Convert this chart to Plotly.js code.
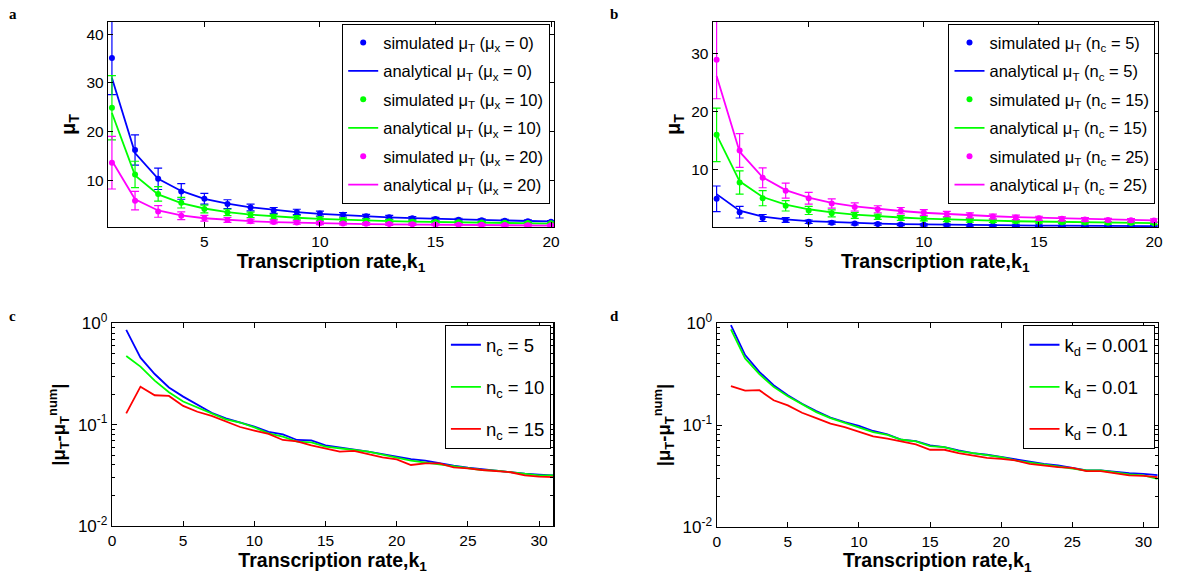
<!DOCTYPE html>
<html>
<head>
<meta charset="utf-8">
<script src="https://cdn.plot.ly/plotly-3.0.1.min.js"></script>
<style>
  html, body { margin: 0; padding: 0; background: #fff; }
  #chart { width: 1179px; height: 578px; }
</style>
</head>
<body>
<div id="chart"></div>
<script>
// Transcription rate k1 for the mean-protein panels (a, b) and the error panels (c, d)
const kTop = [1, 2, 3, 4, 5, 6, 7, 8, 9, 10, 11, 12, 13, 14, 15, 16, 17, 18, 19, 20];
const kBottom = [1, 2, 3, 4, 5, 6, 7, 8, 9, 10, 11, 12, 13, 14, 15, 16, 17, 18, 19, 20,
                 21, 22, 23, 24, 25, 26, 27, 28, 29, 30, 31];

// Panel a: mean mu_T for mu_x = 0, 10, 20
const aSim0 = [35.1, 16.2, 10.3, 7.7, 6.2, 5.1, 4.4, 3.8, 3.5, 3.15, 2.9, 2.6, 2.4, 2.2, 2.05, 1.9, 1.8, 1.7, 1.6, 1.5];
const aErr0 = [7.5, 3.1, 2.2, 1.6, 1.1, 0.9, 0.7, 0.6, 0.55, 0.5, 0.45, 0.4, 0.38, 0.35, 0.33, 0.3, 0.28, 0.27, 0.25, 0.24];
const aAna0 = [31.0, 15.6, 10.3, 7.8, 6.2, 5.2, 4.45, 3.9, 3.45, 3.1, 2.82, 2.58, 2.38, 2.21, 2.07, 1.94, 1.82, 1.72, 1.63, 1.55];
const aSim10 = [24.9, 11.2, 7.2, 5.4, 4.1, 3.4, 2.9, 2.5, 2.3, 2.05, 1.85, 1.7, 1.6, 1.5, 1.42, 1.35, 1.3, 1.25, 1.2, 1.15];
const aErr10 = [6.6, 2.7, 1.5, 1.1, 0.8, 0.65, 0.55, 0.5, 0.45, 0.4, 0.37, 0.34, 0.32, 0.3, 0.28, 0.27, 0.26, 0.25, 0.24, 0.23];
const aAna10 = [23.8, 11.0, 7.1, 5.3, 4.2, 3.45, 2.95, 2.58, 2.3, 2.07, 1.88, 1.73, 1.6, 1.5, 1.41, 1.33, 1.26, 1.2, 1.15, 1.1];
const aSim20 = [13.6, 5.8, 3.6, 2.7, 2.2, 1.85, 1.6, 1.45, 1.3, 1.2, 1.1, 1.05, 1.0, 0.95, 0.9, 0.87, 0.84, 0.8, 0.78, 0.75];
const aErr20 = [5.4, 1.9, 1.2, 0.8, 0.6, 0.5, 0.42, 0.38, 0.34, 0.3, 0.28, 0.26, 0.25, 0.23, 0.22, 0.21, 0.2, 0.2, 0.19, 0.18];
const aAna20 = [14.0, 6.1, 3.8, 2.8, 2.2, 1.85, 1.6, 1.42, 1.28, 1.17, 1.08, 1.0, 0.94, 0.89, 0.85, 0.81, 0.78, 0.75, 0.72, 0.7];

// Panel b: mean mu_T for n_c = 5, 15, 25
const bSim5 = [5.0, 2.7, 1.7, 1.35, 1.05, 0.9, 0.75, 0.65, 0.58, 0.52, 0.48, 0.44, 0.41, 0.38, 0.36, 0.34, 0.33, 0.31, 0.3, 0.29];
const bErr5 = [2.2, 1.0, 0.6, 0.4, 0.3, 0.25, 0.22, 0.2, 0.18, 0.16, 0.15, 0.14, 0.13, 0.12, 0.12, 0.11, 0.11, 0.1, 0.1, 0.1];
const bAna5 = [5.8, 2.95, 1.95, 1.47, 1.17, 0.98, 0.84, 0.73, 0.65, 0.59, 0.53, 0.49, 0.45, 0.42, 0.39, 0.37, 0.35, 0.33, 0.31, 0.3];
const bSim15 = [16.0, 7.8, 5.1, 3.8, 3.0, 2.5, 2.15, 1.9, 1.7, 1.55, 1.4, 1.3, 1.2, 1.12, 1.05, 0.98, 0.93, 0.88, 0.84, 0.8];
const bErr15 = [4.6, 2.0, 1.3, 0.9, 0.7, 0.6, 0.5, 0.45, 0.4, 0.36, 0.33, 0.3, 0.28, 0.27, 0.25, 0.24, 0.23, 0.22, 0.21, 0.2];
const bAna15 = [16.0, 8.0, 5.3, 4.0, 3.2, 2.65, 2.28, 2.0, 1.78, 1.6, 1.45, 1.33, 1.23, 1.14, 1.07, 1.0, 0.94, 0.89, 0.84, 0.8];
const bSim25 = [28.9, 13.3, 8.6, 6.4, 5.1, 4.2, 3.6, 3.2, 2.95, 2.65, 2.4, 2.15, 1.95, 1.8, 1.65, 1.55, 1.45, 1.35, 1.3, 1.25];
const bErr25 = [6.7, 2.9, 1.7, 1.3, 1.0, 0.8, 0.7, 0.6, 0.55, 0.5, 0.45, 0.42, 0.4, 0.38, 0.35, 0.33, 0.32, 0.3, 0.29, 0.28];
const bAna25 = [26.1, 13.1, 8.7, 6.5, 5.2, 4.3, 3.7, 3.25, 2.9, 2.6, 2.37, 2.17, 2.0, 1.86, 1.74, 1.63, 1.53, 1.45, 1.37, 1.3];

// Panel c: |mu_T - mu_T^num| for n_c = 5, 10, 15
const cErr5 = [0.86, 0.458, 0.316, 0.233, 0.189, 0.156, 0.131, 0.1155, 0.1054, 0.0955, 0.0847, 0.0803, 0.0706, 0.070, 0.0625,
               0.0598, 0.0571, 0.0542, 0.0513, 0.0483, 0.0458, 0.0441, 0.0415, 0.0394, 0.0376, 0.0362, 0.0354, 0.0341, 0.0328, 0.0321, 0.0316];
const cErr10 = [0.476, 0.374, 0.272, 0.209, 0.169, 0.148, 0.129, 0.113, 0.105, 0.094, 0.082, 0.076, 0.068, 0.067, 0.0607,
                0.0589, 0.0562, 0.0542, 0.0502, 0.0472, 0.0441, 0.0422, 0.0406, 0.0385, 0.0374, 0.0357, 0.0352, 0.0339, 0.0326, 0.0316, 0.0316];
const cErr15 = [0.129, 0.237, 0.195, 0.192, 0.153, 0.134, 0.122, 0.107, 0.0948, 0.0873, 0.081, 0.0706, 0.0685, 0.0625, 0.0584,
                0.0542, 0.0550, 0.0510, 0.0476, 0.0455, 0.0400, 0.0415, 0.0415, 0.0379, 0.0371, 0.0357, 0.0346, 0.0339, 0.0316, 0.0307, 0.0304];

// Panel d: |mu_T - mu_T^num| for k_d = 0.001, 0.01, 0.1
const dErr001 = [0.96, 0.487, 0.333, 0.246, 0.196, 0.162, 0.137, 0.118, 0.107, 0.0978, 0.0873, 0.081, 0.0716, 0.0695, 0.063,
                 0.0607, 0.0562, 0.0529, 0.0510, 0.0483, 0.0455, 0.0431, 0.0415, 0.0400, 0.0379, 0.0357, 0.0357, 0.0344, 0.0336, 0.0331, 0.0321];
const dErr01 = [0.873, 0.452, 0.316, 0.237, 0.192, 0.159, 0.134, 0.117, 0.105, 0.094, 0.0853, 0.08, 0.0716, 0.069, 0.062,
                0.0607, 0.0554, 0.0529, 0.0502, 0.0483, 0.0448, 0.0428, 0.0412, 0.0391, 0.0376, 0.0357, 0.0357, 0.0341, 0.0326, 0.0319, 0.0295];
const dErr1 = [0.241, 0.218, 0.22, 0.175, 0.156, 0.132, 0.117, 0.103, 0.0955, 0.0853, 0.0773, 0.0733, 0.069, 0.0645, 0.0571,
               0.0571, 0.0529, 0.0502, 0.0476, 0.0465, 0.0448, 0.0415, 0.0400, 0.0385, 0.0379, 0.0352, 0.0352, 0.0336, 0.0319, 0.0316, 0.0307];

// Legend labels
const aLabels = ['0', '10', '20'];
const bLabels = ['5', '15', '25'];
const cLabels = ['5', '10', '15'];
const dLabels = ['0.001', '0.01', '0.1'];

const BLUE = '#0000ff', GREEN = '#00ff00', MAGENTA = '#ff00ff', RED = '#ff0000';
const FONT = '"Liberation Sans", Arial, Helvetica, sans-serif';

let gid = 0;
function simTrace(x, y, err, color, name, xa, ya, leg) {
  return {
    type: 'scatter', mode: 'markers', x: x, y: y, name: name,
    xaxis: xa, yaxis: ya, legend: leg, legendgroup: 'g' + (gid++),
    marker: { color: color, size: 6, symbol: 'circle' },
    error_y: { type: 'data', array: err, visible: true, color: color, thickness: 1.2, width: 4 },
    cliponaxis: true
  };
}
function lineTrace(x, y, color, name, xa, ya, leg) {
  return {
    type: 'scatter', mode: 'lines', x: x, y: y, name: name,
    xaxis: xa, yaxis: ya, legend: leg, legendgroup: 'g' + (gid++),
    line: { color: color, width: 1.8 }
  };
}

const muT = 'μ<sub>T</sub>';
const traces = [];
[[aSim0, aErr0, aAna0, BLUE], [aSim10, aErr10, aAna10, GREEN], [aSim20, aErr20, aAna20, MAGENTA]].forEach((s, i) => {
  traces.push(simTrace(kTop, s[0], s[1], s[3], 'simulated ' + muT + ' (μ<sub>x</sub> = ' + aLabels[i] + ')', 'x', 'y', 'legend'));
  traces.push(lineTrace(kTop, s[2], s[3], 'analytical ' + muT + ' (μ<sub>x</sub> = ' + aLabels[i] + ')', 'x', 'y', 'legend'));
});
[[bSim5, bErr5, bAna5, BLUE], [bSim15, bErr15, bAna15, GREEN], [bSim25, bErr25, bAna25, MAGENTA]].forEach((s, i) => {
  traces.push(simTrace(kTop, s[0], s[1], s[3], 'simulated ' + muT + ' (n<sub>c</sub> = ' + bLabels[i] + ')', 'x2', 'y2', 'legend2'));
  traces.push(lineTrace(kTop, s[2], s[3], 'analytical ' + muT + ' (n<sub>c</sub> = ' + bLabels[i] + ')', 'x2', 'y2', 'legend2'));
});
[[cErr5, BLUE], [cErr10, GREEN], [cErr15, RED]].forEach((s, i) => {
  traces.push(lineTrace(kBottom, s[0], s[1], 'n<sub>c</sub> = ' + cLabels[i], 'x3', 'y3', 'legend3'));
});
[[dErr001, BLUE], [dErr01, GREEN], [dErr1, RED]].forEach((s, i) => {
  traces.push(lineTrace(kBottom, s[0], s[1], 'k<sub>d</sub> = ' + dLabels[i], 'x4', 'y4', 'legend4'));
});

const W = 1179, H = 578;
const fx = px => px / W;
const fy = py => 1 - py / H;

function linAxis(domain, range, tickvals, anchor) {
  return {
    domain: domain, range: range, anchor: anchor,
    tickmode: 'array', tickvals: tickvals,
    ticks: 'inside', ticklen: 5, tickwidth: 1, tickcolor: '#000',
    showline: true, linecolor: '#000', linewidth: 1.2, mirror: 'ticks',
    showgrid: false, zeroline: false,
    tickfont: { family: FONT, size: 15.5, color: '#000' }
  };
}
const xTitle = { text: '<b>Transcription rate,k<sub>1</sub></b>', font: { family: FONT, size: 19.5, color: '#000' }, standoff: 1 };
const muTitle = { text: '<b>μ<sub>T</sub></b>', font: { family: FONT, size: 20, color: '#000' }, standoff: 5 };
const diffTitle = { text: '<b>|μ<sub>T</sub>-μ<sub>T</sub><sup>num</sup>|</b>', font: { family: FONT, size: 18.5, color: '#000' }, standoff: 7 };

const logTickVals = [0.01, 0.1, 1];
const logTickText = ['10<sup>-2</sup>', '10<sup>-1</sup>', '10<sup>0</sup>'];
const logMinor = [0.02, 0.03, 0.04, 0.05, 0.06, 0.07, 0.08, 0.09, 0.2, 0.3, 0.4, 0.5, 0.6, 0.7, 0.8, 0.9];

function logAxis(domain, anchor) {
  const ax = linAxis(domain, [-2, 0], logTickVals, anchor);
  ax.type = 'log';
  ax.ticktext = logTickText;
  ax.tickfont = { family: FONT, size: 17, color: '#000' };
  ax.minor = { tickvals: logMinor, ticks: 'inside', ticklen: 3, tickcolor: '#000', showgrid: false };
  return ax;
}

const legendBase = {
  bgcolor: '#fff', bordercolor: '#000', borderwidth: 1.2,
  xanchor: 'right', yanchor: 'top', traceorder: 'grouped', itemwidth: 30,
  font: { family: FONT, size: 16.5, color: '#000' }
};
const bigLegendFont = { family: FONT, size: 18.5, color: '#000' };

const layout = {
  width: W, height: H,
  margin: { l: 0, r: 0, t: 0, b: 0 },
  paper_bgcolor: '#fff', plot_bgcolor: '#fff',
  font: { family: FONT, color: '#000' },
  showlegend: true,
  xaxis: Object.assign(linAxis([fx(108), fx(554)], [0.83, 20.13], [5, 10, 15, 20], 'y'), { title: xTitle }),
  yaxis: Object.assign(linAxis([fy(227), fy(22)], [0.4, 42.5], [10, 20, 30, 40], 'x'), { title: muTitle }),
  xaxis2: Object.assign(linAxis([fx(712.7), fx(1157.7)], [0.83, 20.16], [5, 10, 15, 20], 'y2'), { title: xTitle }),
  yaxis2: Object.assign(linAxis([fy(227), fy(22)], [0.15, 35.4], [10, 20, 30], 'x2'), { title: muTitle }),
  xaxis3: Object.assign(linAxis([fx(112), fx(553.3)], [0, 31], [0, 5, 10, 15, 20, 25, 30], 'y3'), { title: xTitle }),
  yaxis3: Object.assign(logAxis([fy(526), fy(323.3)], 'x3'), { title: diffTitle }),
  xaxis4: Object.assign(linAxis([fx(716.7), fx(1157.7)], [0, 31], [0, 5, 10, 15, 20, 25, 30], 'y4'), { title: xTitle }),
  yaxis4: Object.assign(logAxis([fy(526.7), fy(323.3)], 'x4'), { title: diffTitle }),
  legend: Object.assign({}, legendBase, { x: fx(550), y: fy(24), tracegroupgap: 4 }),
  legend2: Object.assign({}, legendBase, { x: fx(1155.3), y: fy(24), tracegroupgap: 4 }),
  legend3: Object.assign({}, legendBase, { x: fx(550.7), y: fy(325), tracegroupgap: 15, font: bigLegendFont }),
  legend4: Object.assign({}, legendBase, { x: fx(1155.3), y: fy(325), tracegroupgap: 15, font: bigLegendFont }),
  annotations: [
    ['a', 7, 4], ['b', 608, 4], ['c', 7, 306], ['d', 608, 306]
  ].map(p => ({
    text: '<b>' + p[0] + '</b>', xref: 'paper', yref: 'paper', x: fx(p[1]), y: fy(p[2]),
    xanchor: 'left', yanchor: 'top', showarrow: false,
    font: { family: '"Liberation Serif", "DejaVu Serif", serif', size: 15, color: '#000' }
  }))
};

Plotly.newPlot('chart', traces, layout, { displayModeBar: false, staticPlot: true });
</script>
</body>
</html>
